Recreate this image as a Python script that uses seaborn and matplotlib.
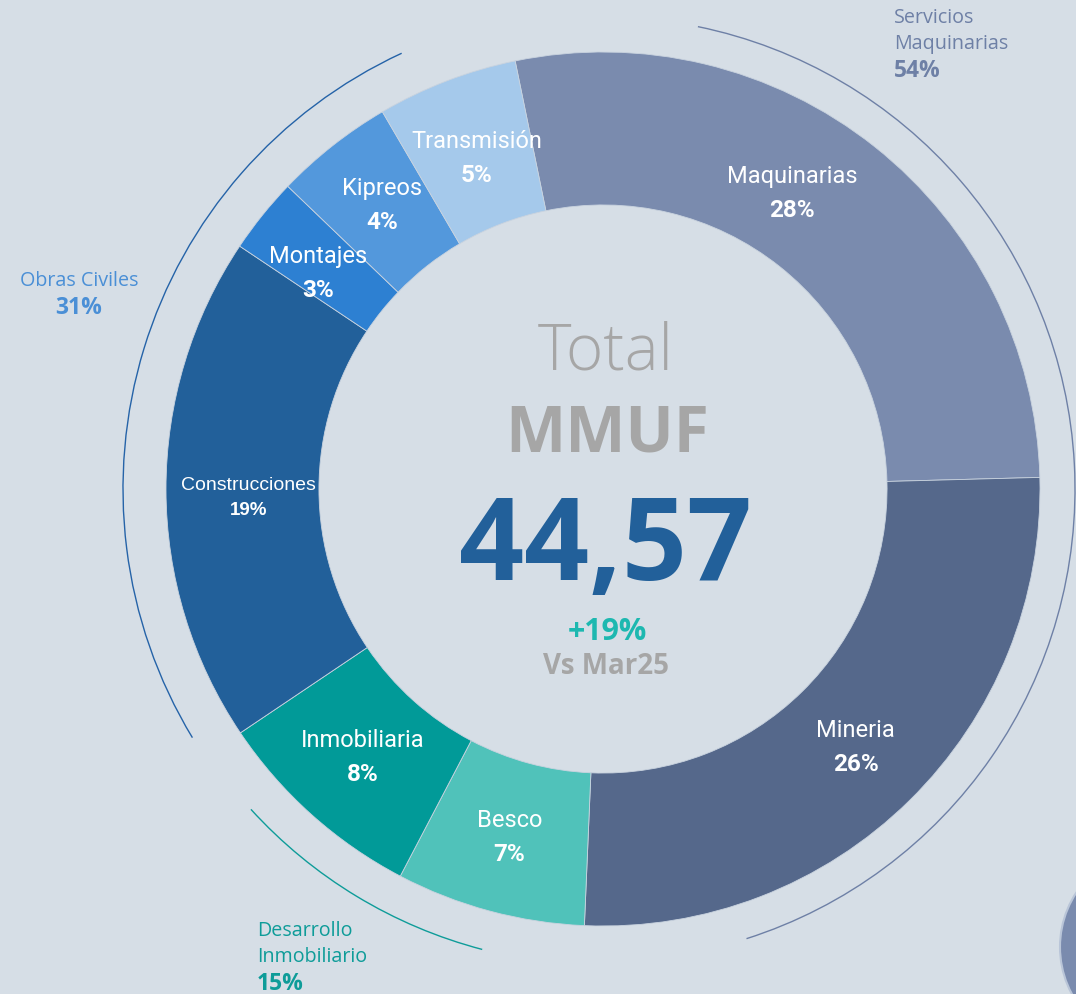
import matplotlib.pyplot as plt
from matplotlib.patches import Arc, Circle
import seaborn as sns
import numpy as np

# segment data (share of total MMUF, %)
segments = ['Maquinarias', 'Mineria', 'Besco', 'Inmobiliaria',
            'Construcciones', 'Montajes', 'Kipreos', 'Transmisión']
shares = [27.8, 26.1, 7.0, 7.9, 18.8, 2.8, 4.4, 5.2]
pct_labels = [28, 26, 7, 8, 19, 3, 4, 5]
seg_colors = ['#7A8BAE', '#55688B', '#50C2BA', '#019A98',
              '#22609A', '#2D80D2', '#5398DC', '#A5C9EB']
# small pixel nudges of the in-ring labels (dx, dy)
label_nudges = [(-35, 13), (0, -2), (0, 0), (0, 0),
                (6, -8), (-4, -10), (2, 0), (3, -6)]

# business groups
groups = ['Servicios\nMaquinarias', 'Obras Civiles', 'Desarrollo\nInmobiliario']
group_shares = [54, 31, 15]
group_colors = ['#6E80A6', '#4A8FD6', '#0E9C99']
arc_colors = ['#6E80A6', '#2563A8', '#0E9C99']

total_label = 'Total'
unit_label = 'MMUF'
total_value = '44,57'
change_label = '+19%'
compare_label = 'Vs Mar25'

BG = '#D6DEE6'
W, H = 1076, 994
CX, CY, R = 603, H - 489, 437
RING = 0.35

sns.set_theme(style='white')
plt.rcParams['font.family'] = ['Open Sans', 'DejaVu Sans']

fig = plt.figure(figsize=(W / 100, H / 100), dpi=100)
fig.patch.set_facecolor(BG)
ax = fig.add_axes([0, 0, 1, 1])
ax.set_facecolor(BG)

wedges, _ = ax.pie(shares, colors=seg_colors, startangle=101.6, counterclock=False,
                   center=(CX, CY), radius=R, frame=True,
                   wedgeprops=dict(width=R * RING, edgecolor='#C9D3DF', linewidth=0.6))
ax.set_xlim(0, W)
ax.set_ylim(0, H)
ax.set_aspect('equal')
ax.axis('off')

# labels in the middle of the ring
for w, name, pct, (nx, ny) in zip(wedges, segments, pct_labels, label_nudges):
    ang = np.deg2rad((w.theta1 + w.theta2) / 2)
    lx = CX + R * 0.825 * np.cos(ang) + nx
    ly = CY + R * 0.825 * np.sin(ang) + ny
    if name == 'Construcciones':
        fam = ['Liberation Sans', 'DejaVu Sans']
        ax.text(lx, ly + 12, name, ha='center', va='center', color='white',
                fontsize=14, family=fam)
        ax.text(lx, ly - 13, f'{pct}%', ha='center', va='center', color='white',
                fontsize=13.5, fontweight='bold', family=fam)
    else:
        fam = ['Roboto', 'DejaVu Sans']
        ax.text(lx, ly + 17, name, ha='center', va='center', color='white',
                fontsize=17, family=fam)
        ax.text(lx, ly - 17, f'{pct}%', ha='center', va='center', color='white',
                fontsize=17.5, fontweight='bold', family=fam)

# centre text
ax.text(CX + 3, CY + 119, total_label, ha='center', va='baseline', color='#A6A6A6',
        fontsize=46, fontweight='light')
ax.text(CX + 4, CY + 37, unit_label, ha='center', va='baseline', color='#A6A6A6',
        fontsize=46, fontweight='bold')
ax.text(CX + 2, CY - 91, total_value, ha='center', va='baseline', color='#22609A',
        fontsize=82, fontweight='bold')
ax.text(CX + 4, CY - 151, change_label, ha='center', va='baseline', color='#1DB8B0',
        fontsize=22, fontweight='bold')
ax.text(CX + 3, CY - 185, compare_label, ha='center', va='baseline', color='#A6A6A6',
        fontsize=20, fontweight='bold')

# group arcs (angles clockwise from top)
arc_spans = [(11.6, 162.3), (238.8, 335.2), (194.7, 227.7)]
arc_radii = [472, 480, 476]
for (a0, a1), rr, col in zip(arc_spans, arc_radii, arc_colors):
    ax.add_patch(Arc((CX, CY), 2 * rr, 2 * rr, theta1=90 - a1, theta2=90 - a0,
                     color=col, linewidth=1.0))


def group_label(x, y_top, text, pct, color, ha):
    lines = text.split('\n')
    for i, line in enumerate(lines):
        ax.text(x, H - (y_top + 26.5 * i), line, ha=ha, va='center', color=color,
                fontsize=14.2)
    ax.text(x, H - (y_top + 26.5 * len(lines)), f'{pct}%', ha=ha, va='center',
            color=color, fontsize=16.5, fontweight='bold')


group_label(894, 18, groups[0], group_shares[0], group_colors[0], 'left')
group_label(79, 281, groups[1], group_shares[1], group_colors[1], 'center')
group_label(257, 931, groups[2], group_shares[2], group_colors[2], 'left')

# decorative circle bottom right
ax.add_patch(Circle((1159, H - 947), 99, facecolor='#7A8BAE', edgecolor='#B9C5D8',
                    linewidth=1.5))

fig.savefig('out.png', dpi=100, facecolor=BG)
